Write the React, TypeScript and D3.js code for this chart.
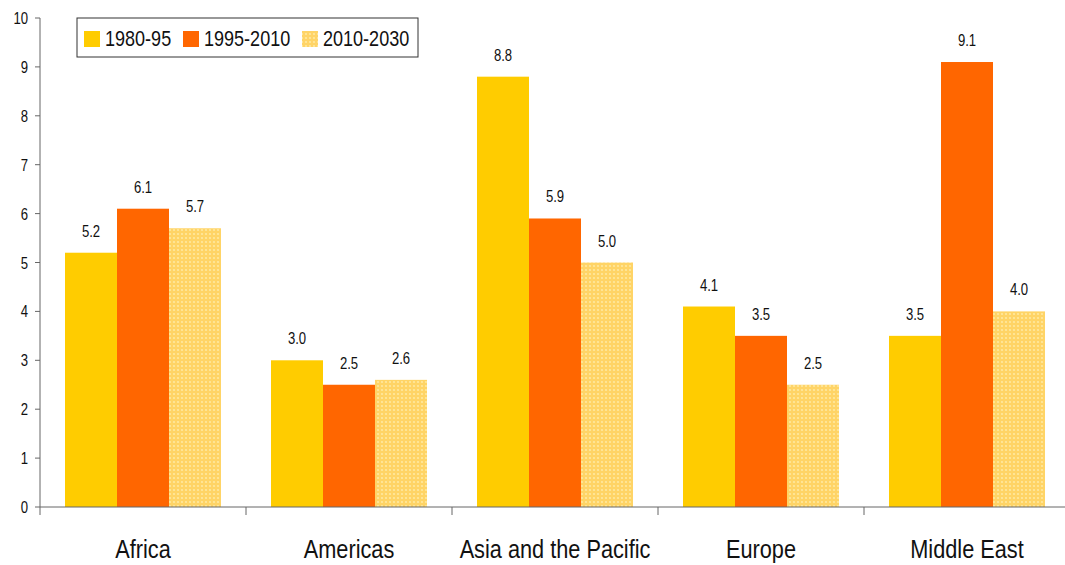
import React from "react";
import * as d3 from "d3";

const categories = ["Africa", "Americas", "Asia and the Pacific", "Europe", "Middle East"];
const seriesNames = ["1980-95", "1995-2010", "2010-2030"];
const s1980 = [5.2, 3.0, 8.8, 4.1, 3.5];
const s1995 = [6.1, 2.5, 5.9, 3.5, 9.1];
const s2010 = [5.7, 2.6, 5.0, 2.5, 4.0];
const yTicks = [0, 1, 2, 3, 4, 5, 6, 7, 8, 9, 10];

const colors = ["#FFCC00", "#FF6600", "url(#dots)"];
const font = "'Liberation Sans', Arial, sans-serif";
const SX = 0.82; // narrow the font horizontally

// condensed text: scale x around the anchor point
const T = ({ x, y, size, anchor = "start", children }: any) => (
  <text
    transform={`translate(${x},${y}) scale(${SX},1)`}
    textAnchor={anchor}
    fontSize={size}
    fill="#111"
  >
    {children}
  </text>
);

export default function App() {
  const width = 1065, height = 565;
  const left = 40, top = 18, bottom = 507, right = 1070;
  const series = [s1980, s1995, s2010];

  const x0 = d3.scaleBand<string>().domain(categories).range([left, right]);
  const x1 = d3.scaleBand<number>().domain([0, 1, 2]).range([25, x0.bandwidth() - 25]);
  const y = d3.scaleLinear().domain([0, 10]).range([bottom, top]);

  return (
    <svg width={width} height={height} style={{ position: "absolute", left: 0, top: 0 }} fontFamily={font}>
      <defs>
        <pattern id="dots" width="4" height="4" patternUnits="userSpaceOnUse">
          <rect width="4" height="4" fill="#FFD466" />
          <circle cx="2" cy="2" r="1.1" fill="#FFE9A0" />
        </pattern>
      </defs>
      <rect width={width} height={height} fill="#fff" />
      {categories.map((c, ci) =>
        series.map((s, si) => {
          const bx = x0(c)! + x1(si)!;
          return (
            <g key={c + si}>
              <rect x={bx} y={y(s[ci])} width={x1.bandwidth()} height={bottom - y(s[ci])} fill={colors[si]} />
              <T x={bx + x1.bandwidth() / 2} y={y(s[ci]) - 16} anchor="middle" size={16}>
                {s[ci].toFixed(1)}
              </T>
            </g>
          );
        })
      )}
      <line x1={left} x2={left} y1={top} y2={bottom} stroke="#666" />
      <line x1={left} x2={width} y1={bottom} y2={bottom} stroke="#666" />
      {yTicks.map((t) => (
        <g key={t}>
          <line x1={left - 5} x2={left} y1={y(t)} y2={y(t)} stroke="#666" />
          <T x={left - 12} y={y(t) + 6} anchor="end" size={16}>{t}</T>
        </g>
      ))}
      {categories.map((c) => (
        <g key={c}>
          <line x1={x0(c)!} x2={x0(c)!} y1={bottom} y2={bottom + 8} stroke="#666" />
          <T x={x0(c)! + x0.bandwidth() / 2} y={558} anchor="middle" size={26.5}>{c}</T>
        </g>
      ))}
      <rect x={77} y={18} width={341} height={39} fill="#fff" stroke="#333" />
      {seriesNames.map((n, i) => {
        const lx = [84, 183, 302][i];
        return (
          <g key={n}>
            <rect x={lx} y={31} width={16} height={16} fill={colors[i]} />
            <T x={lx + 21} y={46} size={22}>{n}</T>
          </g>
        );
      })}
    </svg>
  );
}
